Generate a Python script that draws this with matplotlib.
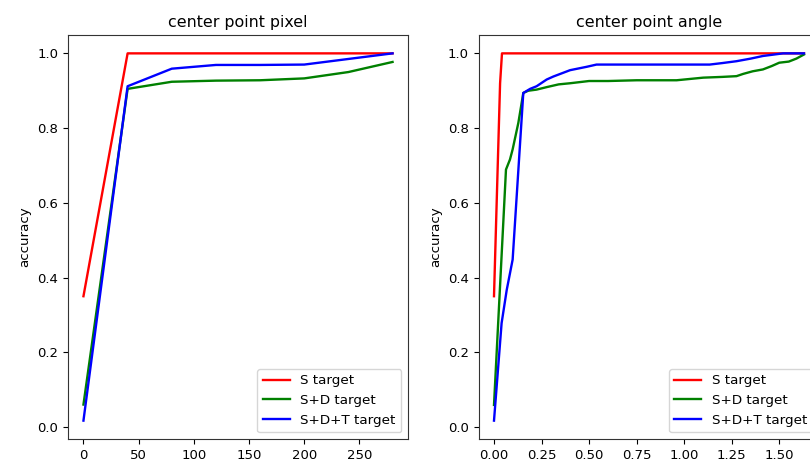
import matplotlib
matplotlib.use("Agg")
import matplotlib.pyplot as plt

# === Left panel: center point pixel ===
PIX_X = [0, 40, 80, 120, 160, 200, 240, 280]
PIX_S = [0.35, 1.0, 1.0, 1.0, 1.0, 1.0, 1.0, 1.0]
PIX_SD = [0.06, 0.905, 0.924, 0.927, 0.928, 0.933, 0.950, 0.977]
PIX_SDT = [0.017, 0.912, 0.959, 0.969, 0.969, 0.970, 0.985, 1.0]

# === Right panel: center point angle ===
ANG_S_X = [0, 0.032, 0.042, 1.63]
ANG_S = [0.35, 0.92, 1.0, 1.0]

ANG_SD_X = [0, 0.063, 0.084, 0.098, 0.128, 0.154, 0.18, 0.224, 0.28, 0.34, 0.40,
            0.50, 0.60, 0.75, 0.96, 1.10, 1.20, 1.275, 1.31, 1.36, 1.414, 1.46,
            1.50, 1.55, 1.59, 1.63]
ANG_SD = [0.059, 0.689, 0.716, 0.743, 0.814, 0.894, 0.900, 0.903, 0.910, 0.917, 0.920,
          0.926, 0.926, 0.928, 0.928, 0.935, 0.937, 0.939, 0.945, 0.952, 0.957, 0.966,
          0.975, 0.978, 0.986, 0.997]

ANG_SDT_X = [0, 0.04, 0.067, 0.098, 0.154, 0.19, 0.224, 0.277, 0.312, 0.40, 0.487,
             0.539, 0.70, 0.90, 1.134, 1.20, 1.275, 1.35, 1.414, 1.52, 1.63]
ANG_SDT = [0.017, 0.278, 0.367, 0.448, 0.894, 0.905, 0.912, 0.930, 0.938, 0.955, 0.964,
           0.970, 0.970, 0.970, 0.970, 0.974, 0.979, 0.986, 0.993, 1.0, 1.0]

LABELS = ["S target", "S+D target", "S+D+T target"]
COLORS = ["red", "green", "blue"]

W, H = 810, 466
fig = plt.figure(figsize=(W / 100, H / 100), dpi=100)

ax1 = fig.add_axes([68 / W, (H - 439) / H, 340 / W, 404 / H])
ax2 = fig.add_axes([478.5 / W, (H - 439) / H, 341 / W, 404 / H])

series = [
    (ax1, [(PIX_X, PIX_S), (PIX_X, PIX_SD), (PIX_X, PIX_SDT)], "center point pixel"),
    (ax2, [(ANG_S_X, ANG_S), (ANG_SD_X, ANG_SD), (ANG_SDT_X, ANG_SDT)], "center point angle"),
]

for ax, lines, title in series:
    for (xs, ys), lab, col in zip(lines, LABELS, COLORS):
        ax.plot(xs, ys, color=col, lw=1.7, label=lab)
    ax.set_title(title, fontsize=11.4)
    ax.set_ylabel("accuracy", fontsize=9.6)
    ax.tick_params(labelsize=9.5)
    ax.set_yticks([0.0, 0.2, 0.4, 0.6, 0.8, 1.0])
    ax.legend(loc="lower right", fontsize=9.7)
    for sp in ax.spines.values():
        sp.set_color("#333333")

# 1.75 tick falls past the cropped edge in the reference
ax2.set_xticks([0.0, 0.25, 0.5, 0.75, 1.0, 1.25, 1.5])

fig.savefig("out.png", dpi=100)
